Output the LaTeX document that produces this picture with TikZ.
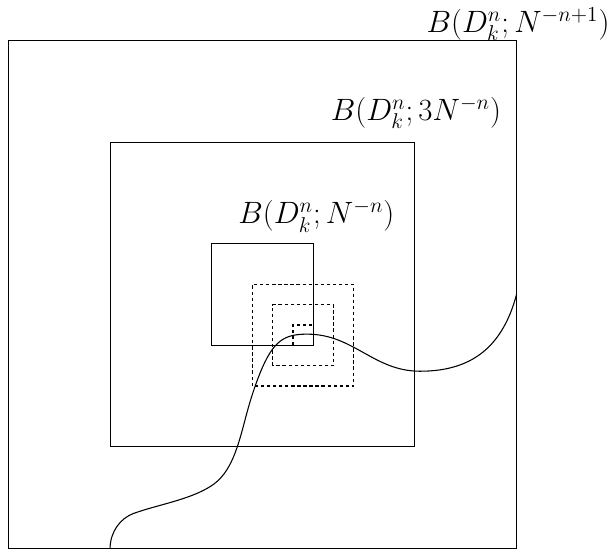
\documentclass[tikz,border=0pt]{standalone}
\usepackage{amsmath}
\begin{document}
\begin{tikzpicture}[
  sq/.style={line width=0.6pt},
  dsq/.style={line width=0.6pt, dash pattern=on 1.9pt off 1.5pt},
  lab/.style={anchor=base, inner sep=0pt, font=\LARGE}
]
\useasboundingbox (-5.167,-5.108) rectangle (6.82,5.797);
% solid squares
\draw[sq] (-5,-5) rectangle (5,5);
\draw[sq] (-3,-3) rectangle (3,3);
\draw[sq] (-1,-1) rectangle (1,1);
% dashed squares
\draw[dsq] (-0.2,-1.8) rectangle (1.8,0.2);
\draw[dsq] (0.2,-1.4) rectangle (1.4,-0.2);
\draw[dsq] (0.6,-1.0) rectangle (1.0,-0.6);
% labels
\node[lab] (lout) at (5.03,5.16) {$B(D_k^n;N^{-n+1})$};
\node[lab] (lmid) at (3.02,3.43) {$B(D_k^n;3N^{-n})$};
\node[lab] (lin) at (1.06,1.39) {$B(D_k^n;N^{-n})$};
% curve
\coordinate (cs) at (-3,-5);
\coordinate (c1) at (-2.54,-4.31);
\coordinate (c2) at (-1.03,-3.78);
\coordinate (c3) at (-0.31,-2.34);
\coordinate (c4) at (-0.05,-1.55);
\coordinate (cpk) at (0.88,-0.78);
\coordinate (clow) at (3.1,-1.51);
\coordinate (ce) at (5,0);
\draw[line width=0.6pt] (cs)
  .. controls (-3,-4.67) and (-2.794,-4.402) .. (c1)
  .. controls (-2.07,-4.139) and (-1.454,-4.045) .. (c2)
  .. controls (-0.60,-3.52) and (-0.478,-2.968) .. (c3)
  .. controls (-0.240,-2.079) and (-0.151,-1.800) .. (c4)
  .. controls (0.2125,-0.901) and (0.43,-0.78) .. (cpk)
  to[out=0,in=180] (clow)
  to[out=0,in=-105,looseness=1.1] (ce);
\end{tikzpicture}
\end{document}
